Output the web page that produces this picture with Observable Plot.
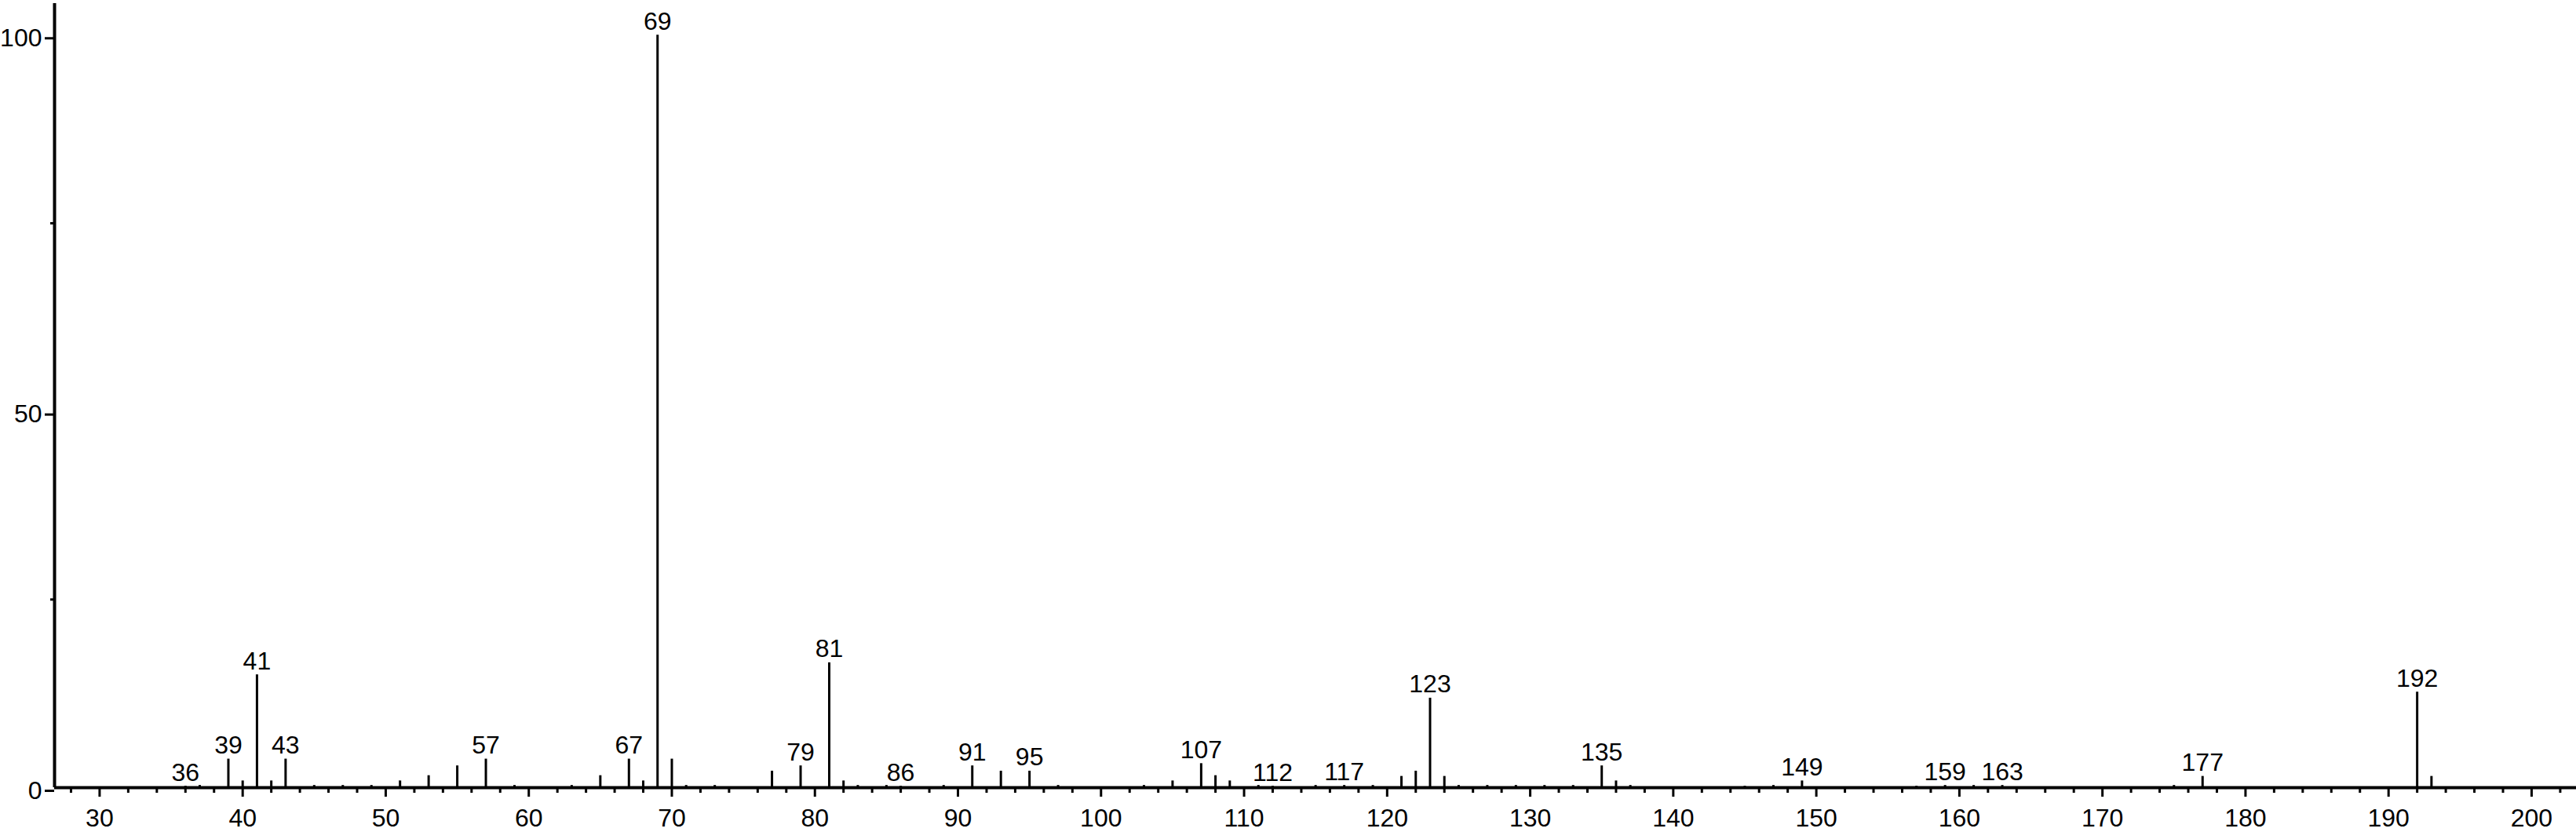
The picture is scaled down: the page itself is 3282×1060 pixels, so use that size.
<!DOCTYPE html>
<html>
<head>
<meta charset="utf-8">
<script src="https://cdn.jsdelivr.net/npm/d3@7"></script>
<script src="https://cdn.jsdelivr.net/npm/@observablehq/plot@0.6"></script>
<style>
  html, body { margin: 0; padding: 0; background: #fff; }
  #chart svg { display: block; }
</style>
</head>
<body>
<div id="chart"></div>
<script>
// m/z values of the peaks
const mz = [36, 37, 39, 40, 41, 42, 43, 45, 47, 49, 51, 53, 55, 57, 59, 63, 65, 67, 68, 69, 70, 71, 73,
            77, 79, 81, 82, 83, 85, 86, 89, 91, 93, 95, 97, 103, 105, 107, 108, 109, 111, 112,
            115, 117, 119, 121, 122, 123, 124, 125, 127, 129, 131, 133, 135, 136, 137,
            145, 147, 149, 157, 159, 161, 163, 175, 177, 192, 193];
// relative intensities (%)
const intensity = [0.2, 0.3, 3.8, 0.9, 15.0, 0.9, 3.8, 0.3, 0.3, 0.3, 0.9, 1.6, 2.9, 3.8, 0.3, 0.3, 1.6, 3.8, 0.9, 100, 3.8, 0.3, 0.3,
                   2.2, 2.9, 16.6, 0.9, 0.3, 0.3, 0.2, 0.3, 2.9, 2.2, 2.2, 0.3, 0.3, 0.9, 3.2, 1.6, 0.9, 0.3, 0.2,
                   0.3, 0.3, 0.3, 1.5, 2.2, 11.9, 1.5, 0.3, 0.3, 0.3, 0.3, 0.3, 2.9, 0.9, 0.3,
                   0.2, 0.3, 0.9, 0.2, 0.3, 0.3, 0.3, 0.3, 1.5, 12.7, 1.5];
// peaks carrying an m/z label
const labelled = [36, 39, 41, 43, 57, 67, 69, 79, 81, 86, 91, 95, 107, 112, 117, 123, 135, 149, 159, 163, 177, 192];

const xMajorTicks = d3.range(30, 201, 10);
const xMinorTicks = d3.range(28, 203, 2).filter(d => d % 10 !== 0);
const yMajorTicks = [0, 50, 100];
const yMinorTicks = [25, 75];

const xDomain = [26.85, 203.13];
const yDomain = [0, 104.2];

const peaks = mz.map((m, i) => ({mz: m, value: intensity[i]}));
const labels = peaks.filter(d => labelled.includes(d.mz));

const font = "'Liberation Sans', Arial, Helvetica, sans-serif";

const chart = Plot.plot({
  width: 3282,
  height: 1060,
  marginLeft: 69,
  marginRight: 0,
  marginTop: 4,
  marginBottom: 57,
  style: {fontFamily: font, background: "#fff", color: "#000", overflow: "visible"},
  x: {domain: xDomain, label: null},
  y: {domain: yDomain, label: null},
  marks: [
    // minor ticks
    Plot.axisX(xMinorTicks, {tickSize: 7, strokeWidth: 3, tickFormat: () => "", label: null}),
    Plot.axisY(yMinorTicks, {tickSize: 5, strokeWidth: 3, tickFormat: () => "", label: null}),
    // major ticks with labels
    Plot.axisX(xMajorTicks, {tickSize: 12, tickPadding: 15, strokeWidth: 3, fontSize: 32, tickFormat: d => String(d), label: null}),
    Plot.axisY(yMajorTicks, {tickSize: 12, tickPadding: 4, strokeWidth: 3, fontSize: 32, dy: 4, tickFormat: d => String(d), label: null}),
    // peaks
    Plot.ruleX(peaks, {x: "mz", y1: 0, y2: "value", stroke: "#000", strokeWidth: 3}),
    // axis lines
    Plot.ruleY([0], {stroke: "#000", strokeWidth: 4}),
    Plot.ruleX([xDomain[0]], {y1: yDomain[0], y2: yDomain[1], stroke: "#000", strokeWidth: 4}),
    // peak labels
    Plot.text(labels, {x: "mz", y: "value", text: d => String(d.mz), dy: -7, lineAnchor: "bottom", fontSize: 32, fill: "#000"})
  ]
});

document.getElementById("chart").appendChild(chart);
</script>
</body>
</html>
